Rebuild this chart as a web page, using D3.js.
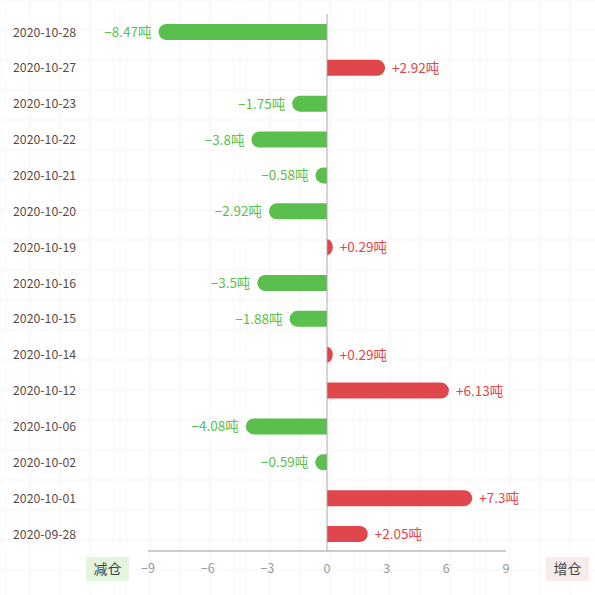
<!DOCTYPE html>
<html><head><meta charset="utf-8">
<script src="https://cdn.jsdelivr.net/npm/d3@7"></script>
<style>body{margin:0;background:#fff}text{font-family:"Noto Sans CJK SC","Noto Sans",sans-serif}</style>
</head><body><svg id="c" width="595" height="595"></svg>
<script>
var dates = ["2020-10-28","2020-10-27","2020-10-23","2020-10-22","2020-10-21","2020-10-20","2020-10-19","2020-10-16","2020-10-15","2020-10-14","2020-10-12","2020-10-06","2020-10-02","2020-10-01","2020-09-28"];
var values = [-8.47,2.92,-1.75,-3.8,-0.58,-2.92,0.29,-3.5,-1.88,0.29,6.13,-4.08,-0.59,7.3,2.05];
var ticks = [-9,-6,-3,0,3,6,9];

var svg = d3.select("#c");
var x = d3.scaleLinear().domain([-9, 9]).range([148, 506]);
var y = d3.scalePoint().domain(dates).range([32, 534]);
var green = "#5bbf4e", red = "#e0474c";

// faint grid background
var gx = d3.range(0, 596, 30);
svg.selectAll(".gv").data(gx).enter().append("line")
  .attr("x1", d => d).attr("x2", d => d).attr("y1", 0).attr("y2", 595)
  .attr("stroke", "#f5f5f5");
svg.selectAll(".gh").data(gx).enter().append("line")
  .attr("y1", d => d).attr("y2", d => d).attr("x1", 0).attr("x2", 595)
  .attr("stroke", "#f5f5f5");

var h = 16, r = 8;
function barPath(v, cy) {
  var x0 = x(0), x1 = x(v), top = cy - h / 2;
  var len = Math.abs(x1 - x0), rr = Math.min(r, len);
  if (v >= 0) {
    return "M" + x0 + "," + top + "H" + (x1 - rr) + "A" + rr + "," + r + " 0 0 1 " + (x1 - rr) + "," + (top + h) + "H" + x0 + "Z";
  }
  return "M" + x0 + "," + top + "H" + (x1 + rr) + "A" + rr + "," + r + " 0 0 0 " + (x1 + rr) + "," + (top + h) + "H" + x0 + "Z";
}

var rows = dates.map((d, i) => ({d: d, v: values[i]}));
svg.selectAll(".bar").data(rows).enter().append("path")
  .attr("d", d => barPath(d.v, y(d.d)))
  .attr("fill", d => d.v < 0 ? green : red);

svg.selectAll(".val").data(rows).enter().append("text")
  .attr("x", d => d.v < 0 ? x(d.v) - 7 : x(d.v) + 7)
  .attr("y", d => y(d.d) + 5)
  .attr("text-anchor", d => d.v < 0 ? "end" : "start")
  .attr("font-size", 13.5)
  .attr("fill", d => d.v < 0 ? green : red)
  .text(d => (d.v < 0 ? "\u2212" + Math.abs(d.v) : "+" + d.v) + "吨");

svg.selectAll(".lab").data(dates).enter().append("text")
  .attr("x", 13).attr("y", d => y(d) + 4.5)
  .attr("font-family", "DejaVu Sans")
  .attr("font-size", 12.3).attr("fill", "#5a4a48")
  .text(d => d);

// zero line and axis
svg.append("line").attr("x1", x(0)).attr("x2", x(0)).attr("y1", 14).attr("y2", 551)
  .attr("stroke", "#aaa");
svg.append("line").attr("x1", x(-9)).attr("x2", x(9)).attr("y1", 551).attr("y2", 551)
  .attr("stroke", "#bbb").attr("stroke-width", 1.5);
svg.selectAll(".tk").data(ticks).enter().append("text")
  .attr("x", d => x(d)).attr("y", 573).attr("text-anchor", "middle")
  .attr("font-size", 12.5).attr("fill", "#999")
  .text(d => d < 0 ? "\u2212" + Math.abs(d) : d);

svg.append("rect").attr("x", 86).attr("y", 557).attr("width", 43).attr("height", 24).attr("fill", "#e3f5df");
svg.append("text").attr("x", 107.5).attr("y", 574).attr("text-anchor", "middle").attr("font-size", 14).attr("fill", "#444").text("减仓");
svg.append("rect").attr("x", 546).attr("y", 557).attr("width", 43).attr("height", 24).attr("fill", "#f7eceb");
svg.append("text").attr("x", 567.5).attr("y", 574).attr("text-anchor", "middle").attr("font-size", 14).attr("fill", "#444").text("增仓");
</script></body></html>
